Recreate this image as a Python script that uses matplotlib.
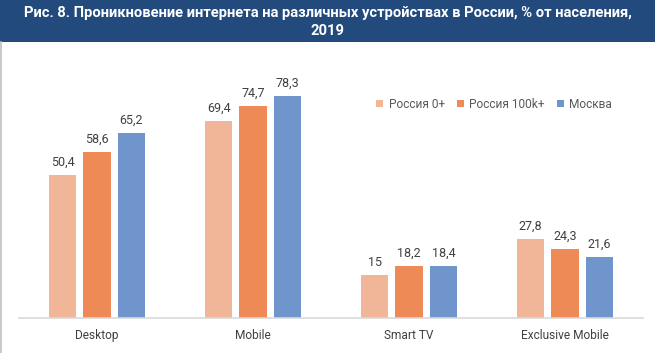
import matplotlib
matplotlib.use("Agg")
import matplotlib.pyplot as plt
import numpy as np

categories = ["Desktop", "Mobile", "Smart TV", "Exclusive Mobile"]
series_names = ["Россия 0+", "Россия 100k+", "Москва"]
russia_all = [50.4, 69.4, 15, 27.8]
russia_100k = [58.6, 74.7, 18.2, 24.3]
moscow = [65.2, 78.3, 18.4, 21.6]
labels_all = ["50,4", "69,4", "15", "27,8"]
labels_100k = ["58,6", "74,7", "18,2", "24,3"]
labels_moscow = ["65,2", "78,3", "18,4", "21,6"]

colors = ["#F1B597", "#EE8A55", "#7094CC"]
title = "Рис. 8. Проникновение интернета на различных устройствах в России, % от населения,\n2019"

plt.rcParams['font.family'] = ['Roboto', 'DejaVu Sans']

fig = plt.figure(figsize=(6.55, 3.53), dpi=100)

# title band
band = fig.add_axes([0, 1 - 42/353, 1, 42/353])
band.set_xlim(0, 1)
band.set_ylim(0, 1)
band.axis("off")
band.add_patch(plt.Rectangle((0, 0), 1, 1, color="#224A7D", transform=band.transAxes))
band.text(0.5, 0.48, title, ha="center", va="center", color="white",
          fontsize=10.6, fontweight="bold", linespacing=1.35)

# thin gray border on left
fig.add_artist(plt.Line2D([0.002, 0.002], [0, 1 - 42/353], color="#BFBFBF", lw=1.2))

ax = fig.add_axes([19/655, 1 - 318/353, 624/655, 258/353])
x = np.arange(len(categories))
w = 0.175
gap = 0.045
offsets = [-(w + gap), 0, w + gap]
data = [russia_all, russia_100k, moscow]
labels = [labels_all, labels_100k, labels_moscow]
for i in range(3):
    bars = ax.bar(x + offsets[i], data[i], w, color=colors[i], label=series_names[i])
    for b, lab in zip(bars, labels[i]):
        ax.text(b.get_x() + b.get_width()/2, b.get_height() + 2.2, lab,
                ha="center", va="bottom", fontsize=9, color="#404040")

ax.set_xlim(-0.5, 3.5)
ax.set_ylim(0, 91)
ax.set_yticks([])
ax.set_xticks(x)
ax.set_xticklabels(categories, fontsize=8.6, color="#404040")
ax.tick_params(axis="x", length=0, pad=8)
for s in ["top", "right", "left"]:
    ax.spines[s].set_visible(False)
ax.spines["bottom"].set_color("#D9D9D9")
ax.spines["bottom"].set_linewidth(1.2)

ax.legend(loc="upper left", bbox_to_anchor=(0.555, 0.895), ncol=3, frameon=False,
          fontsize=8.6, handlelength=0.6, handleheight=0.6, handletextpad=0.45,
          columnspacing=1.0, labelcolor="#595959")

fig.savefig("out.png", dpi=100)
